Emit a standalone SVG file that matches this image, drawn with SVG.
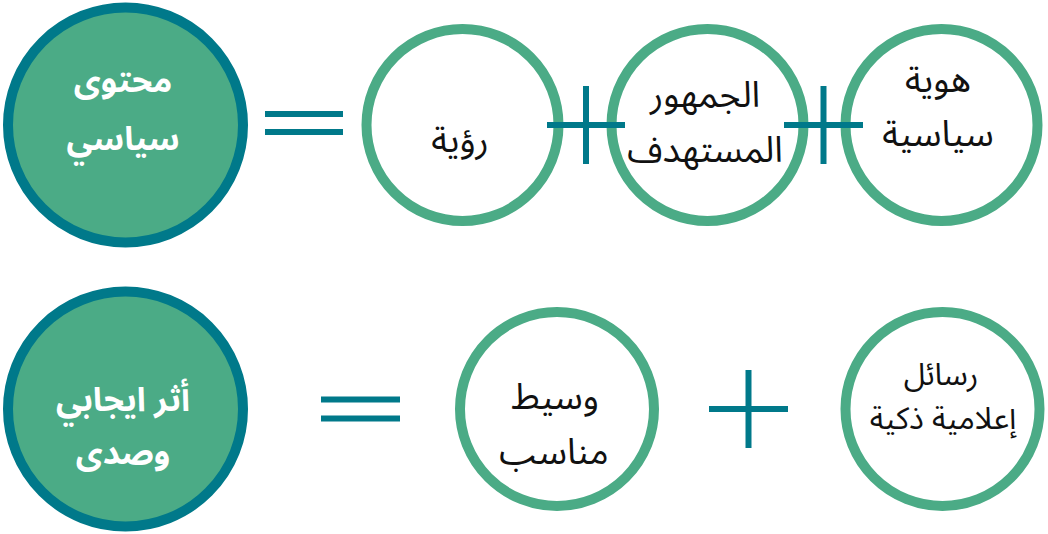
<svg xmlns="http://www.w3.org/2000/svg" width="1048" height="534" viewBox="0 0 1048 534">
  <style>
    .main { fill: #4BAB86; stroke: #00798A; stroke-width: 10; }
    .ring { fill: #FFFFFF; stroke: #4BAB86; stroke-width: 10; }
    .op { stroke: #00798A; stroke-width: 6; fill: none; }
    .wt { font-family: "Noto Sans Arabic", "DejaVu Sans", sans-serif; font-weight: bold; font-size: 33px; fill: #FFFFFF; text-anchor: middle; }
    .bt { font-family: "Noto Sans Arabic", "DejaVu Sans", sans-serif; font-size: 36px; fill: #111111; text-anchor: middle; }
    .st { font-family: "Noto Sans Arabic", "DejaVu Sans", sans-serif; font-size: 31px; fill: #111111; text-anchor: middle; }
  </style>
  <rect width="1048" height="534" fill="#FFFFFF"/>

  <g id="node-content">
    <circle class="main" cx="125.5" cy="125" r="117.5"/>
    <text class="wt" x="123" y="92" direction="rtl">محتوى</text>
    <text class="wt" x="123" y="150" direction="rtl">سياسي</text>
  </g>

  <g id="node-vision">
    <circle class="ring" cx="462.5" cy="125" r="96"/>
    <text class="bt" x="460" y="152" direction="rtl">رؤية</text>
  </g>

  <g id="node-audience">
    <circle class="ring" cx="707.5" cy="125" r="96"/>
    <text class="bt" x="705" y="107" direction="rtl">الجمهور</text>
    <text class="bt" x="705" y="162" direction="rtl">المستهدف</text>
  </g>

  <g id="node-identity">
    <circle class="ring" cx="941.5" cy="125" r="96"/>
    <text class="bt" x="938" y="92" direction="rtl">هوية</text>
    <text class="bt" x="938" y="146" direction="rtl">سياسية</text>
  </g>

  <g id="node-impact">
    <circle class="main" cx="125.5" cy="409" r="117.5"/>
    <text class="wt" x="123" y="411" direction="rtl">أثر ايجابي</text>
    <text class="wt" x="123" y="464" direction="rtl">وصدى</text>
  </g>

  <g id="node-medium">
    <circle class="ring" cx="557" cy="409" r="97"/>
    <text class="bt" x="555" y="409" direction="rtl">وسيط</text>
    <text class="bt" x="554" y="464" direction="rtl">مناسب</text>
  </g>

  <g id="node-messages">
    <circle class="ring" cx="942.5" cy="409" r="97"/>
    <text class="st" x="941" y="385" direction="rtl">رسائل</text>
    <text class="st" x="943" y="429" direction="rtl">إعلامية ذكية</text>
  </g>

  <g id="connectors">
    <line class="op" x1="265" y1="114" x2="343" y2="114"/>
    <line class="op" x1="265" y1="132" x2="343" y2="132"/>
    <line class="op" x1="547" y1="125" x2="625" y2="125"/>
    <line class="op" x1="586" y1="86" x2="586" y2="164"/>
    <line class="op" x1="784" y1="125" x2="863" y2="125"/>
    <line class="op" x1="823.5" y1="86" x2="823.5" y2="164"/>
    <line class="op" x1="321" y1="399.5" x2="400" y2="399.5"/>
    <line class="op" x1="321" y1="418.5" x2="400" y2="418.5"/>
    <line class="op" x1="709" y1="409" x2="788" y2="409"/>
    <line class="op" x1="748.5" y1="370" x2="748.5" y2="448"/>
  </g>
</svg>
